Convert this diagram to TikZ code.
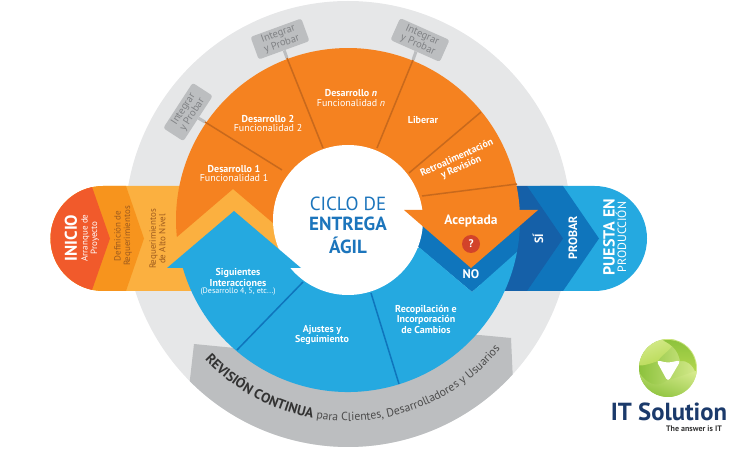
\documentclass[tikz,border=0pt]{standalone}
\usepackage{fontspec}
\setmainfont{PT Sans}
\usetikzlibrary{arrows.meta,calc,positioning,decorations.text}
\definecolor{ringgrey}{HTML}{E6E7E8}
\definecolor{bandgrey}{HTML}{BCBEC0}
\definecolor{tagtext}{HTML}{808285}
\definecolor{ringorange}{HTML}{F58220}
\definecolor{splitorange}{HTML}{C8691C}
\definecolor{lightorange}{HTML}{FBB040}
\definecolor{midorange}{HTML}{F7941D}
\definecolor{startred}{HTML}{F15A2B}
\definecolor{brownish}{HTML}{9C5A1E}
\definecolor{ringblue}{HTML}{25A9E0}
\definecolor{deepblue}{HTML}{0F75BC}
\definecolor{siblue}{HTML}{1560A8}
\definecolor{titleblue}{HTML}{1C75BC}
\definecolor{asklabel}{HTML}{D2432A}
\definecolor{logonavy}{HTML}{1B3A6B}
\definecolor{logogreen}{HTML}{B4D84E}
\definecolor{logolight}{HTML}{D5EA8C}
\definecolor{logodark}{HTML}{8CC23C}
\tikzset {
  >=Stealth,
  every node/.style={inner sep=0pt,align=center},
  steplabel/.style={text=white,font=\fontsize{10}{10}\selectfont},
  boldlabel/.style={text=white,font=\fontsize{10}{10.5}\selectfont\bfseries},
  sidelabel/.style={rotate=90,text=brownish,font=\fontsize{9}{9.5}\selectfont},
  sidebold/.style={rotate=90,text=white,font=\fontsize{12}{12}\selectfont\bfseries},
  tagbox/.style={fill=bandgrey,rounded corners=2.5pt,text=tagtext,minimum width=54pt,minimum height=24pt,
    font=\fontsize{10.5}{10.5}\selectfont},
  stemline/.style={draw=bandgrey,line width=3pt},
  splitline/.style={draw=splitorange,line width=1.5pt},
  bluesplit/.style={draw=deepblue,line width=1.5pt},
}

\begin{document}
\begin{tikzpicture}[x=1pt,y=1pt]
  \useasboundingbox (0,0) rectangle (750,450);
  \coordinate (ctr) at (348,230);
  \coordinate (gctr) at (348,226);

  % grey back disc and band
  \fill[ringgrey] (gctr) circle (223pt);
  \fill[bandgrey] (gctr) ++(224.8:223) arc[start angle=224.8,end angle=317.6,radius=223pt]
    -- (511,112) .. controls (490,114) and (480,115) .. (478,115) -- (235,102) -- (194,106) -- cycle;

  % left pill
  \fill[lightorange] (103,264) arc[start angle=90,end angle=270,radius=52.5pt] -- (300,159) -- (300,264) -- cycle;
  \fill[midorange] (103,264) arc[start angle=90,end angle=270,radius=52.5pt]
    -- (126,159) -- (144,211.5) -- (126,264) -- cycle;
  \fill[startred] (103,211.5) ++(102:52.5) arc[start angle=102,end angle=258,radius=52.5pt] -- (110,211.5) -- cycle;

  % right pill
  \fill[ringblue] (594.5,264) arc[start angle=90,end angle=-90,radius=52.5pt] -- (540,159) -- (540,264) -- cycle;
  \fill[deepblue] (527,264) -- (563,264) -- (599,211.5) -- (563,159) -- (527,159) -- cycle;
  \fill[siblue] (480,264) -- (527,264) -- (563,211.5) -- (527,159) -- (480,159) -- cycle;

  % tags and stems
  \coordinate (divone) at (205,328);
  \coordinate (divtwo) at (287,392);
  \coordinate (divthree) at (413,390);
  \node[tagbox,rotate=57] (tagone) at (188,338) {Integrar\\y Probar};
  \node[tagbox,rotate=20] (tagtwo) at (280,411) {Integrar\\y Probar};
  \node[tagbox,rotate=-24] (tagthree) at (420,410) {Integrar\\y Probar};
  \draw[stemline] (tagone) -- (divone);
  \draw[stemline] (tagtwo) -- (divtwo);
  \draw[stemline] (tagthree) -- (divthree);

  % ring
  \fill[ringorange] (ctr) ++(185.7:172) arc[start angle=185.7,end angle=3.3,radius=172pt]
    -- (400,240) -- (300,204) -- (233,261) -- cycle;
  \fill[deepblue] (ctr) ++(3.3:172) arc[start angle=3.3,end angle=-10.7,radius=172pt]
    -- (472,158) -- (410,210) -- (400,240) -- cycle;
  \fill[ringblue] (ctr) ++(196.2:172) arc[start angle=196.2,end angle=349.3,radius=172pt]
    -- (472,158) -- (420,202) -- (348,200) -- (300,182) -- cycle;

  % splits
  \draw[splitline] (divone) -- (282,280);
  \draw[splitline] (divtwo) -- (323,302);
  \draw[splitline] (divthree) -- (377,302);
  \draw[splitline] (481,338) -- (409,277);
  \draw[splitline] (517,266) -- (422,254);
  \draw[bluesplit] (303,168) -- (237,100);
  \draw[bluesplit] (371,157) -- (399,66);

  \fill[white] (ctr) circle (75pt);
  \fill[ringblue] (167,182) -- (234,239) -- (301,182) -- cycle;
  \fill[ringorange] (404,240) -- (538,240) -- (471,182) -- cycle;

  % centre title
  \node[text=titleblue,font=\fontsize{19}{19}\selectfont] (titlea) at (348,246) {CICLO DE};
  \node[text=titleblue,font=\fontsize{19}{19}\selectfont\bfseries] (titleb) at (348,226) {ENTREGA};
  \node[text=titleblue,font=\fontsize{19}{19}\selectfont\bfseries] (titlec) at (348,205) {ÁGIL};

  % orange steps
  \node[boldlabel] (devone) at (234,281) {Desarrollo 1};
  \node[steplabel] (funone) at (234,271.5) {Funcionalidad 1};
  \node[boldlabel] (devtwo) at (268,331) {Desarrollo 2};
  \node[steplabel] (funtwo) at (268,321.5) {Funcionalidad 2};
  \node[boldlabel] (devn) at (351,357) {Desarrollo \textit{n}};
  \node[steplabel] (funn) at (351,347) {Funcionalidad \textit{n}};
  \node[boldlabel] (release) at (423,330) {Liberar};
  \node[boldlabel,rotate=24] (feedback) at (459,287) {Retroalimentación\\y Revisión};
  \node[text=white,font=\fontsize{13.5}{14}\selectfont\bfseries] (accepted) at (471,229) {Aceptada};
  \node[circle,fill=asklabel,minimum size=18pt,text=white,font=\fontsize{11}{11}\selectfont\bfseries] (ask) at (471,206) {?};
  \node[text=white,font=\fontsize{12.5}{12}\selectfont\bfseries] (no) at (471,176) {NO};

  % blue steps
  \node[boldlabel] (nextit) at (238,172.5) {Siguientes\\Interacciones};
  \node[text=white,font=\fontsize{8}{8}\selectfont] (nextsub) at (238,158) {(Desarrollo 4, 5, etc...)};
  \node[boldlabel] (adjust) at (322,115) {Ajustes y\\Seguimiento};
  \node[boldlabel] (gather) at (426,131) {Recopilación e\\Incorporación\\de Cambios};

  % pill labels
  \node[sidebold,font=\fontsize{17}{17}\selectfont\bfseries] (start) at (71,212) {INICIO};
  \node[rotate=90,text=white,font=\fontsize{9}{9.5}\selectfont] (kickoff) at (90,212) {Arranque de\\Proyecto};
  \node[sidelabel] (reqdef) at (123,214) {Definición de\\Requerimientos};
  \node[sidelabel] (reqhigh) at (157.5,211) {Requerimientos\\de Alto Nivel};
  \node[sidebold] (yes) at (538,211) {SÍ};
  \node[sidebold] (test) at (573,212) {PROBAR};
  \node[sidebold,font=\fontsize{16}{16}\selectfont\bfseries] (golive) at (609,213) {PUESTA EN};
  \node[rotate=90,text=white,font=\fontsize{12}{12}\selectfont] (prod) at (621,213) {PRODUCCIÓN};

  % band text
  \path[decorate,decoration={text along path,text align=center,
    text={|\fontsize{13.8}{13.8}\selectfont\bfseries\color{black!80}|REVISIÓN CONTINUA |\fontsize{11.8}{11.8}\selectfont\color{black!70}|para Clientes, Desarrolladores y Usuarios}}]
    (gctr) ++(220:197) arc[start angle=220,end angle=324,radius=197pt];

  % logo
  \coordinate (logoctr) at (668,82);
  \shade[left color=logodark,right color=logolight] (logoctr) circle (29pt);
  \shade[left color=logolight,right color=logogreen,shading angle=20] (logoctr) ++(175:29) arc[start angle=175,end angle=75,radius=29pt]
    .. controls (672,100) and (662,96) .. (658,89) .. controls (650,86) and (642,84) .. cycle;
  \shade[top color=logodark,bottom color=logogreen] (logoctr) ++(100:28) arc[start angle=100,end angle=-10,radius=28pt]
    .. controls (693,85) and (687,90) .. (680,89) .. controls (678,100) and (672,105) .. cycle;
  \shade[left color=logolight,right color=logodark,shading angle=-20] (logoctr) ++(-5:29) arc[start angle=-5,end angle=-170,radius=29pt]
    .. controls (650,62) and (660,64) .. (668,70) .. controls (676,72) and (685,75) .. cycle;
  \fill[white,rounded corners=4pt] (656,90) .. controls (668,87) .. (681,90) -- (668,68) -- cycle;
  \node[text=logonavy,font=\fontsize{24.7}{25}\selectfont\bfseries] (logoname) at (669,38) {IT Solution};
  \node[text=black!80,font=\fontsize{8}{8}\selectfont\bfseries] (logotag) at (694,21) {The answer is IT};
\end{tikzpicture}
\end{document}
